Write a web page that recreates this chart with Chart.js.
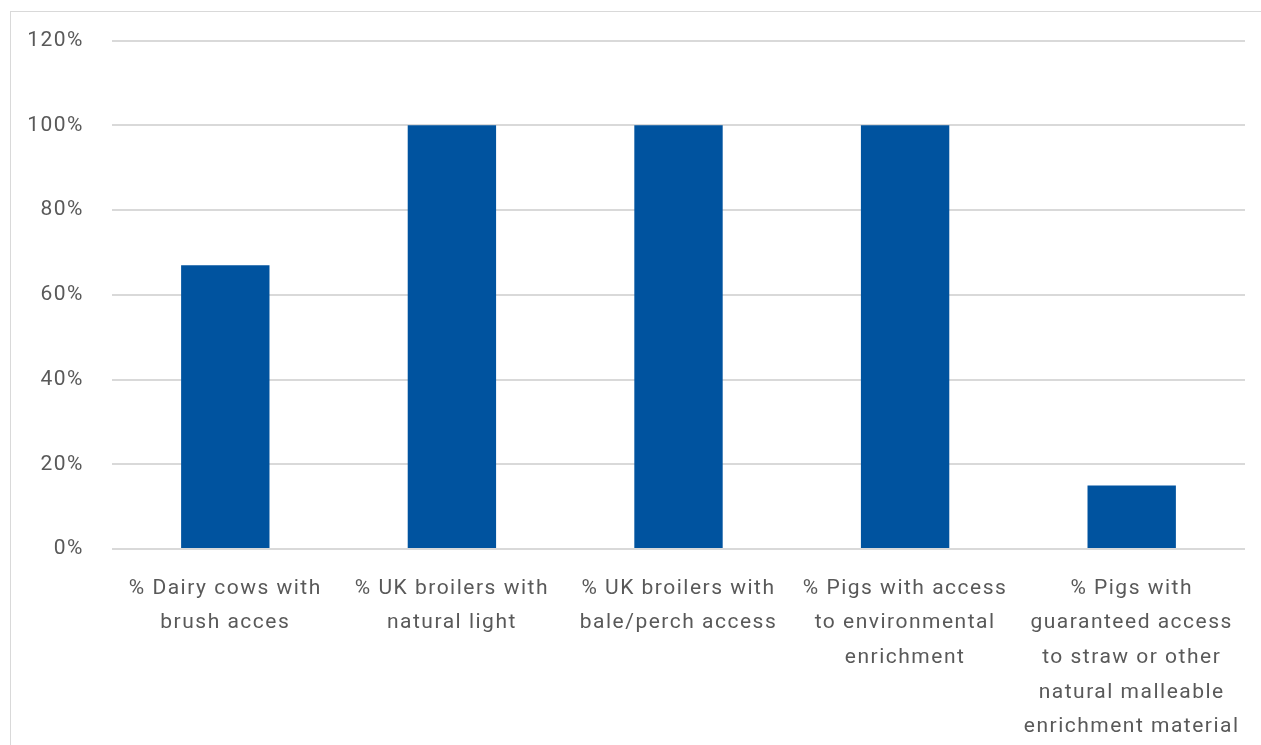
<!DOCTYPE html>
<html>
<head>
<meta charset="utf-8">
<script src="https://cdn.jsdelivr.net/npm/chart.js@4.4.1/dist/chart.umd.min.js"></script>
<style>
  html, body { margin: 0; padding: 0; background: #fff; overflow: hidden; }
  #frame {
    position: absolute; left: 10px; top: 11px; width: 1400px; height: 900px;
    border: 1px solid #d9d9d9;
  }
  #wrap { position: absolute; left: 0; top: 0; width: 1261px; height: 745px; }
</style>
</head>
<body>
<div id="frame"></div>
<div id="wrap"><canvas id="welfare-chart"></canvas></div>
<script>
// Welfare indicators - share of animals with access to enrichment
const categories = [
  ["% Dairy cows with", "brush acces"],
  ["% UK broilers with", "natural light"],
  ["% UK broilers with", "bale/perch access"],
  ["% Pigs with access", "to environmental", "enrichment"],
  ["% Pigs with", "guaranteed access", "to straw or other", "natural malleable", "enrichment material"]
];
const shareValues = [67, 100, 100, 100, 15];
const yTicks = [0, 20, 40, 60, 80, 100, 120];

const textColor = "#595959";
const gridColor = "#d9d9d9";
const fontSpec = { family: "Roboto", size: 21 };

// wider tracking on all labels (context state resets on resize, so reapply)
const tracking = {
  id: "tracking",
  beforeUpdate: (chart) => { chart.ctx.letterSpacing = "1.5px"; },
  beforeDraw: (chart) => { chart.ctx.letterSpacing = "1.5px"; }
};

const ctx = document.getElementById("welfare-chart").getContext("2d");

new Chart(ctx, {
  type: "bar",
  data: {
    labels: categories,
    datasets: [{
      label: "Share",
      data: shareValues,
      backgroundColor: "#00539f",
      categoryPercentage: 1,
      barPercentage: 0.39
    }]
  },
  options: {
    responsive: true,
    maintainAspectRatio: false,
    animation: false,
    layout: { padding: { top: 34, right: 16, left: 0, bottom: 0 } },
    plugins: {
      legend: { display: false },
      tooltip: { enabled: false }
    },
    scales: {
      x: {
        grid: { display: false },
        border: { display: false },
        ticks: {
          color: textColor,
          font: { ...fontSpec, lineHeight: 1.65 },
          maxRotation: 0,
          autoSkip: false,
          padding: 14
        },
        afterFit: (scale) => { scale.height = 196; }
      },
      y: {
        min: 0,
        max: 120,
        afterBuildTicks: (scale) => { scale.ticks = yTicks.map(v => ({ value: v })); },
        grid: { color: gridColor, lineWidth: 2, drawTicks: false },
        border: { display: false },
        ticks: {
          color: textColor,
          font: fontSpec,
          padding: 28,
          callback: (v) => v + "%"
        },
        afterFit: (scale) => { scale.width = 112; }
      }
    }
  },
  plugins: [tracking]
});
</script>
</body>
</html>
